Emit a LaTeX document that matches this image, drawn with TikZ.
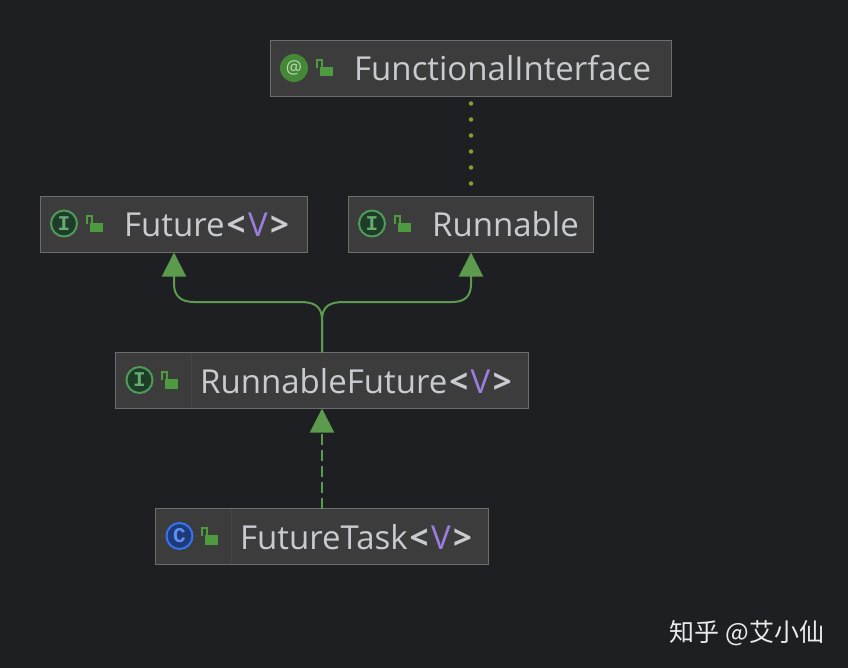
\documentclass[tikz,border=0pt]{standalone}
\usepackage{fontspec}
\setmainfont{Open Sans}
\newfontfamily\cjkfont{Noto Sans CJK SC}
\newfontfamily\slabfont{Liberation Mono}
\usetikzlibrary{arrows.meta}
\definecolor{bgc}{HTML}{1E1F22}
\definecolor{boxc}{HTML}{3C3C3D}
\definecolor{edgec}{HTML}{6C6D6E}
\definecolor{sepc}{HTML}{454546}
\definecolor{txtc}{HTML}{C9CBD0}
\definecolor{purp}{HTML}{9B7EDE}
\definecolor{linkc}{HTML}{5C9A4E}
\definecolor{lockc}{HTML}{4E9A3E}
\definecolor{dotc}{HTML}{8E9A35}
\definecolor{ifill}{HTML}{1E3D28}
\definecolor{iring}{HTML}{4F9A5A}
\definecolor{cfill}{HTML}{1F3A78}
\definecolor{cring}{HTML}{3574F0}
\tikzset{
  umlbox/.style={draw=edgec,fill=boxc,line width=1pt,minimum height=56pt,inner sep=0pt,outer sep=0pt},
  label/.style={anchor=base west,text=txtc,inner sep=0pt,font=\fontsize{33}{33}\selectfont},
  iface/.style={circle,draw=#1,line width=2pt,minimum size=26pt,inner sep=0pt},
  letter/.style={text=#1,font=\slabfont\fontsize{21}{21}\selectfont\bfseries},
  sep/.style={draw=sepc,line width=1pt},
  inherit/.style={draw=linkc,line width=2pt,-{Triangle[width=24pt,length=24pt]}},
}
\newcommand{\gen}{\kern2pt\textcolor{txtc}{\textbf{<}}\kern2.5pt\textcolor{purp}{V}\kern2.5pt\textcolor{txtc}{\textbf{>}}}
\newcommand{\lockat}[2]{%
  \draw[lockc,line width=2pt] (#1-3.5,#2+1) -- (#1-3.5,#2-7) -- (#1+2,#2-7) -- (#1+2,#2);
  \fill[lockc] (#1,#2) rectangle (#1+12.5,#2+9.5);}
\begin{document}
\begin{tikzpicture}[x=1pt,y=-1pt]
\useasboundingbox (0,0) rectangle (848,668);
\fill[bgc] (0,0) rectangle (848,668);

\node[umlbox,minimum width=401pt] (func) at (471,68.5) {};
\node[umlbox,minimum width=267pt] (fut) at (174,224.5) {};
\node[umlbox,minimum width=245pt] (run) at (471,224.5) {};
\node[umlbox,minimum width=413pt] (rf) at (322,380.5) {};
\node[umlbox,minimum width=333pt] (ft) at (322,536.5) {};

\draw[sep] (191,353) -- (191,408);
\draw[sep] (231,509) -- (231,564);

\node[label] (functxt) at (354,81) {FunctionalInterface};
\node[label] (futtxt) at (124,237) {Future\gen};
\node[label] (runtxt) at (432,237) {Runnable};
\node[label] (rftxt) at (200,393) {RunnableFuture\gen};
\node[label] (fttxt) at (240,549) {FutureTask\gen};

\node[circle,fill=lockc!88!black,minimum size=28pt,inner sep=0pt,text=lockc!40!white,font=\fontsize{18}{18}\selectfont] (funcicon) at (294,68) {@};
\node[iface=iring,fill=ifill,letter=iring!85!white] (futicon) at (64,223.5) {I};
\node[iface=iring,fill=ifill,letter=iring!85!white] (runicon) at (372,223.5) {I};
\node[iface=iring,fill=ifill,letter=iring!85!white] (rficon) at (139.5,380) {I};
\node[iface=cring,fill=cfill,letter=cring!80!white] (fticon) at (179.5,536) {C};

\lockat{320}{67}
\lockat{90}{223}
\lockat{398}{223}
\lockat{165}{379}
\lockat{205}{535}

\draw[dotc,line width=4.5pt,line cap=round,dash pattern=on 0pt off 16pt,shorten <=7pt] (func.south) -- (run.north);

\coordinate (fork) at (322,320);
\draw[inherit] (rf.north) -- (fork) .. controls (322,306) and (314,302) .. (300,302) -- (194,302) .. controls (181,302) and (174,296) .. (174,284) -- (fut.south);
\draw[inherit] (rf.north) -- (fork) .. controls (322,306) and (330,302) .. (344,302) -- (452,302) .. controls (465,302) and (471,296) .. (471,284) -- (run.south);
\draw[draw=linkc,line width=2pt,dash pattern=on 11pt off 5pt,-{Triangle[width=24pt,length=24pt]}] (ft.north) -- (rf.south);

\node[anchor=base west,inner sep=0pt,text=white!92!black,font=\cjkfont\fontsize{25}{25}\selectfont] (mark) at (669,641) {知乎 \kern1pt@艾小仙};
\end{tikzpicture}
\end{document}
